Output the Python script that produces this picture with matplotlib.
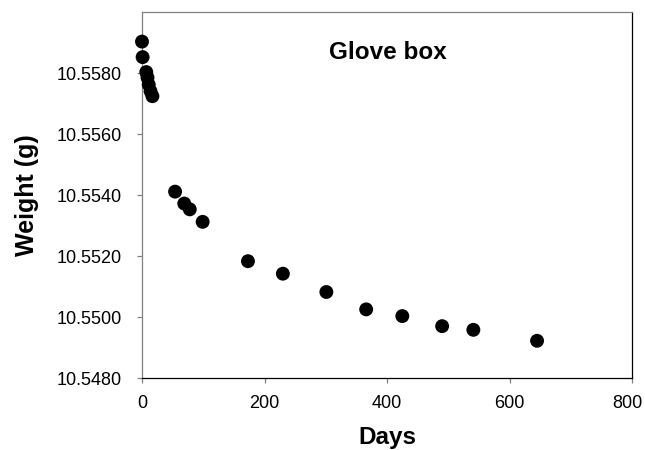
import matplotlib
matplotlib.use("Agg")
import matplotlib.pyplot as plt
from matplotlib.ticker import FuncFormatter
from matplotlib.transforms import ScaledTranslation

plt.rcParams['font.family'] = ['Liberation Sans', 'DejaVu Sans']

# Sample weight in the glove box over time
days = [0, 1, 7, 9, 11, 14, 17, 54, 69, 78, 99, 173, 230, 301, 366, 425, 490, 541, 645]
weight = [10.55903, 10.55852, 10.55803, 10.55785, 10.55762, 10.55740, 10.55724,
          10.55411, 10.55372, 10.55353, 10.55312, 10.55183, 10.55142, 10.55082,
          10.55025, 10.55003, 10.54970, 10.54958, 10.54922]

x_ticks = [0, 200, 400, 600, 800]
y_ticks = [10.548, 10.550, 10.552, 10.554, 10.556, 10.558]

fig = plt.figure(figsize=(6.45, 4.5), dpi=100)
ax = fig.add_axes([142 / 645, 72 / 450, 490 / 645, 366 / 450])

ax.scatter(days, weight, s=100, color='black', edgecolors='none', zorder=3, clip_on=False)

ax.set_xlim(0, 800)
ax.set_ylim(10.548, 10.560)
ax.set_xticks(x_ticks)
ax.set_yticks(y_ticks)
ax.yaxis.set_major_formatter(FuncFormatter(lambda v, p: f"{v:.4f}"))

gray = '#808080'
for side in ('left', 'top'):
    ax.spines[side].set_color(gray)
for side in ('bottom', 'right'):
    ax.spines[side].set_color('black')
for sp in ax.spines.values():
    sp.set_linewidth(0.9)

ax.tick_params(axis='both', direction='out', length=3.5, width=0.9, color=gray,
               labelsize=13, labelcolor='black')
ax.tick_params(axis='y', pad=11)
ax.tick_params(axis='x', pad=9)

# keep the last x tick label inside the figure
fig.canvas.draw()
last = ax.get_xticklabels()[-1]
last.set_transform(last.get_transform() + ScaledTranslation(-5 / 100, 0, fig.dpi_scale_trans))

ax.set_xlabel('Days', fontsize=17.5, fontweight='bold', labelpad=10)
ax.set_ylabel('Weight (g)', fontsize=18, fontweight='bold', labelpad=13)

ax.text(0.502, 0.888, 'Glove box', transform=ax.transAxes, ha='center', va='center',
        fontsize=17.5, fontweight='bold')

fig.savefig('out.png', dpi=100)
